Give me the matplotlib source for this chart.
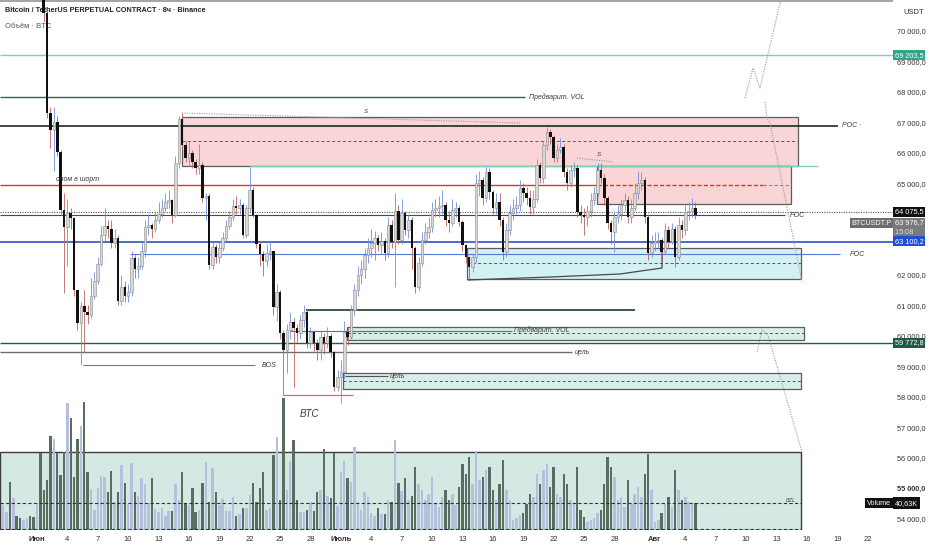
import numpy as np
import matplotlib.pyplot as plt
from matplotlib import font_manager
from matplotlib.patches import Rectangle
from matplotlib.transforms import blended_transform_factory

# 8ч свечи BTCUSDT.P, с 28 мая 16:00 по 5 авг (дни считаются от 1 июня)
first_open = 71700
closes = [71900, 72100, 71800, 72300, 72000, 71700, 71900, 72200, 71800, 71600, 71900, 71700,
          70600, 67310, 66750, 67000, 66030, 64130, 63570, 64030, 63870, 61500, 60430, 60980,
          60780, 60700, 61300, 61800, 62350, 63300, 63600, 63500, 63050, 63200, 61140, 61600,
          61300, 61450, 62550, 62200, 62300, 62800, 63570, 63640, 63500, 63800, 64000, 64200,
          64400, 64450, 63970, 65670, 67100, 66260, 65830, 66000, 65700, 65510, 65600, 64520,
          64600, 62330, 62920, 62600, 62900, 63200, 63600, 63900, 64250, 64200, 64300, 63310,
          64200, 64790, 63970, 63000, 62700, 62460, 62720, 62800, 60950, 61450, 60100, 59540,
          60200, 60460, 60260, 60100, 60520, 60790, 59770, 60130, 59770, 59540, 59970, 59770,
          60000, 59470, 58330, 58650, 58820, 60130, 59970, 60850, 61500, 62000, 62200, 62650,
          62900, 63050, 63200, 62980, 63100, 62720, 63640, 63080, 64100, 63150, 64030, 63470,
          63800, 62900, 61600, 62400, 63150, 63400, 63570, 64130, 64200, 64250, 64300, 63800,
          63700, 64130, 64200, 63740, 62980, 62590, 62260, 62590, 65010, 65100, 64520, 65380,
          64720, 64200, 64400, 63800, 62750, 63470, 64030, 64200, 64300, 64850, 64700, 64520,
          64230, 64500, 65600, 65180, 66260, 66690, 66520, 65830, 66100, 66200, 65380, 65010,
          65440, 65500, 64060, 63970, 63900, 64100, 64460, 64690, 65440, 65180, 64520, 63700,
          63400, 63900, 64000, 64300, 64450, 63900, 64200, 64700, 65010, 65100, 63900, 62720,
          63050, 63100, 63150, 62750, 63470, 63080, 63500, 62590, 63640, 63470, 64060, 64100,
          64200, 63977]
highs = [72300, 72500, 72300, 72600, 72500, 72200, 72300, 72600, 72300, 72000, 72200, 72100,
         72000, 70700, 67500, 67500, 67200, 66100, 64700, 64500, 64200, 63900, 61500, 61100,
         61500, 61000, 61900, 62100, 62600, 63600, 64200, 63800, 63800, 63500, 63300, 62000,
         61800, 61700, 62800, 62700, 62600, 63100, 63800, 64000, 63700, 64100, 64400, 64500,
         64700, 64800, 64500, 65900, 67200, 67310, 66400, 66400, 66100, 65800, 66300, 65700,
         64700, 64700, 63100, 63000, 63100, 63400, 63800, 64100, 64500, 64600, 64500, 64350,
         64300, 65540, 64900, 64000, 63100, 62800, 63000, 63100, 62800, 61700, 61500, 60200,
         60400, 60800, 60600, 60400, 60700, 61000, 60900, 60300, 60200, 59900, 60200, 60100,
         60300, 60100, 59500, 58900, 59200, 60500, 60300, 61000, 61700, 62300, 62500, 62900,
         63200, 63500, 63450, 63300, 63400, 63200, 63900, 63800, 64700, 64300, 64500, 64100,
         64000, 63900, 62950, 62600, 63400, 63700, 63900, 64400, 64500, 64600, 64800, 64400,
         64100, 64500, 64400, 64300, 63800, 63000, 62600, 62700, 65300, 65400, 65200, 65540,
         65500, 64800, 64700, 64700, 63900, 63700, 64300, 64500, 64600, 65100, 65000, 64900,
         64800, 64800, 65800, 65700, 66400, 66850, 66800, 66600, 66300, 66500, 66300, 65500,
         65600, 65700, 65600, 64300, 64200, 64300, 64700, 64900, 65670, 65670, 65300, 64600,
         63800, 64100, 64300, 64500, 64700, 64600, 64500, 65000, 65400, 65380, 65200, 64000,
         63300, 63400, 63400, 63200, 63700, 63600, 63700, 63600, 63900, 63800, 64300, 64400,
         64520, 64400]
lows = [71500, 71700, 71400, 71700, 71600, 71300, 71500, 71800, 71400, 71200, 71400, 71300,
        70300, 67150, 66170, 65400, 65900, 64000, 61410, 62300, 63500, 61300, 60200, 59050,
        59470, 60400, 60600, 61200, 61700, 62300, 63100, 63200, 62900, 62900, 61000, 61000,
        61100, 61100, 61300, 61900, 61900, 62200, 62600, 63300, 63200, 63400, 63700, 63900,
        64100, 64200, 63700, 63900, 65500, 66100, 65700, 65600, 65500, 65300, 65300, 64400,
        63800, 62200, 62200, 62400, 62400, 62800, 63100, 63500, 63800, 64000, 64000, 63200,
        63200, 64100, 63900, 62900, 62300, 61950, 62300, 62500, 60700, 60500, 59900, 58060,
        58800, 59900, 58330, 59800, 59900, 60300, 59600, 59600, 59500, 59200, 59200, 59400,
        59600, 59300, 58200, 58200, 57800, 58600, 59700, 59900, 60700, 61300, 61700, 61900,
        62400, 62600, 62500, 62800, 62700, 62500, 62600, 62900, 61600, 63000, 63000, 63300,
        63200, 62200, 61400, 61500, 62300, 63000, 63200, 63400, 63900, 63900, 64000, 63600,
        63400, 63600, 63900, 63600, 62800, 62400, 61900, 62100, 62400, 64600, 64300, 64400,
        64500, 64000, 64000, 63600, 62500, 62600, 63300, 63800, 64000, 64100, 64400, 64300,
        64000, 64000, 64400, 65000, 65000, 66100, 66300, 65700, 65700, 66000, 65200, 64800,
        64900, 65200, 63900, 63700, 63300, 63600, 63900, 64300, 64600, 65000, 64300, 63500,
        63000, 62750, 63700, 63800, 64100, 63700, 63700, 64100, 64500, 64800, 63700, 62500,
        62600, 62800, 62900, 62500, 62700, 62900, 63000, 62270, 62500, 63200, 63300, 63800,
        63900, 63850]
volumes = [38, 27, 72, 48, 21, 18, 15, 18, 21, 20, 41, 116, 60, 75, 142, 137, 116, 83, 118, 192,
           169, 80, 137, 157, 193, 88, 62, 30, 63, 82, 80, 57, 89, 42, 57, 98, 71, 39, 101, 57,
           51, 78, 69, 41, 78, 32, 27, 33, 21, 29, 29, 69, 45, 88, 39, 38, 63, 27, 30, 71,
           103, 42, 94, 57, 38, 47, 29, 29, 50, 21, 24, 33, 33, 53, 71, 42, 63, 88, 30, 33,
           113, 140, 45, 199, 60, 104, 136, 45, 27, 27, 30, 42, 29, 57, 60, 122, 51, 48, 116, 36,
           88, 104, 78, 72, 125, 42, 30, 57, 50, 26, 21, 33, 24, 24, 45, 42, 136, 71, 59, 78,
           45, 51, 95, 70, 60, 45, 55, 80, 40, 35, 50, 60, 45, 55, 38, 65, 100, 85, 110, 70,
           120, 75, 80, 90, 95, 60, 45, 70, 105, 60, 45, 15, 18, 22, 25, 40, 55, 50, 85, 70,
           90, 100, 65, 95, 55, 50, 85, 70, 45, 40, 95, 30, 20, 12, 15, 18, 25, 30, 70, 110,
           95, 80, 45, 50, 35, 75, 40, 55, 65, 50, 85, 115, 60, 12, 15, 25, 40, 50, 35, 90,
           60, 45, 50, 42, 40, 40.63]

tick_days = [0, 3, 6, 9, 12, 15, 18, 21, 24, 27, 30, 33, 36, 39, 42, 45, 48, 51, 54, 57,
             61, 64, 67, 70, 73, 76, 79, 82]
tick_labels = ['Июн', '4', '7', '10', '13', '16', '19', '22', '25', '28',
               'Июль', '4', '7', '10', '13', '16', '19', '22', '25', '28',
               'Авг', '4', '7', '10', '13', '16', '19', '22']
# 64 000 и 63 000 закрыты метками цены, поэтому не выводятся
price_ticks = [70000, 69000, 68000, 67000, 66000, 65000, 62000, 61000,
               60000, 59000, 58000, 57000, 56000, 55000, 54000]

# шрифт
names = {f.name for f in font_manager.fontManager.ttflist}
base_font = 'Liberation Sans Narrow' if 'Liberation Sans Narrow' in names else 'Liberation Sans'
plt.rcParams['font.family'] = [base_font, 'DejaVu Sans']

X0, X1 = -3.65, 84.5
Y0, Y1 = 53638, 71016


def fmt_price(v):
    return f'{v:,.1f}'.replace(',', ' ').replace('.', ',')


fig = plt.figure(figsize=(9.32, 5.5), dpi=100, facecolor='white')
rect = [0, 20 / 550, 893 / 932, 530 / 550]
axv = fig.add_axes(rect)
ax = fig.add_axes(rect, sharex=axv)
for a in (ax, axv):
    a.patch.set_visible(False)
    for s in a.spines.values():
        s.set_visible(False)
axv.set_ylim(0, 800)
axv.tick_params(left=False, labelleft=False, bottom=False, labelbottom=False)
ax.set_xlim(X0, X1)
ax.set_ylim(Y0, Y1)

x = np.arange(-10, -10 + len(closes)) / 3.0
c = np.array(closes, float)
h = np.array(highs, float)
l = np.array(lows, float)
o = np.concatenate([[first_open], c[:-1]])
up = c >= o
vol = np.array(volumes, float)

# объём
axv.add_patch(Rectangle((X0, 0), 75.42 - X0, 117.7, facecolor='#d5e9e4',
                        edgecolor='#3c3c3c', lw=1.0, zorder=1))
axv.bar(x[up], vol[up], width=0.24, color='#b6c0dd', zorder=2)
axv.bar(x[~up], vol[~up], width=0.24, color='#596d60', zorder=2)
axv.hlines([40.7, 1.3], X0, 75.42, colors='#333333', lw=0.8, linestyles=(0, (3, 2)), zorder=3)
axv.text(74.9, 41.5, 'BZL', fontsize=4, color='#444', style='italic', ha='right', va='bottom')

# зоны
zones = [  # (день от, день до, низ, верх, середина, заливка)
    (14.31, 75.12, 65573, 67180, 66393, '#f9d5d8'),
    (55.28, 74.43, 64327, 65573, None, '#f9d5d8'),
    (42.45, 75.42, 61867, 62884, 62392, '#d3f1f3'),
    (30.60, 75.72, 59868, 60294, 60097, '#d8eeea'),
    (30.21, 75.42, 58261, 58801, 58523, '#d8eeea'),
]
for d0, d1, lo, hi, mid, fc in zones:
    ax.add_patch(Rectangle((d0, lo), d1 - d0, hi - lo, facecolor=fc,
                           edgecolor='#5c5c5c', lw=0.9, zorder=1))
    if mid is not None:
        ax.hlines(mid, d0, d1, colors='#555555', lw=0.7, linestyles=(0, (3, 2.5)), zorder=1.5)

# горизонтальные уровни: (цена, от, до, цвет, толщина, стиль)
levels = [
    (70985, X0, X1, '#a3a3a3', 1.4, '-'),
    (69203.5, X0, X1, '#7fcdbf', 1.0, '-'),
    (67836, X0, 48.17, '#3e5f50', 1.0, '-'),
    (66885, X0, 79.07, '#1b2a22', 1.2, '-'),
    (65573, 21.03, 77.1, '#7fcdbf', 1.0, '-'),
    (64950, X0, 55.28, '#e0332f', 1.0, '-'),
    (64950, 55.28, 71.67, '#e0332f', 1.0, (0, (3, 1.5))),
    (64950, 71.67, 74.43, '#888888', 0.8, (0, (3, 2))),
    (64075.5, X0, X1, '#555555', 0.8, (0, (1, 1.2))),
    (63966, X0, 73.84, '#4a4a4a', 0.8, '-'),
    (63081, X0, X1, '#2d52c4', 1.2, '-'),
    (62687, 9.18, 79.27, '#5577d6', 0.8, '-'),
    (60851, 26.55, 59.03, '#2e4a3c', 1.3, '-'),
    (60162, 24.98, 46.89, '#6c6c6c', 0.8, '-'),
    (59772.8, X0, X1, '#1f5e4c', 1.0, '-'),
    (59474, X0, 52.81, '#6d6d6d', 1.0, '-'),
    (59047, 4.54, 21.52, '#7a7a7a', 0.8, '-'),
    (58687, 30.41, 34.65, '#555555', 0.8, '-'),
    (58064, 24.28, 31.19, '#e06666', 0.9, '-'),
]
for p, d0, d1, col, lw, ls in levels:
    ax.hlines(p, d0, d1, colors=col, lw=lw, linestyles=ls, zorder=2)

# подписи на графике
notes = [  # (день, цена, текст, размер)
    (48.6, 67836, 'Предварит. VOL', 5),
    (79.5, 66885, 'POC ·', 5),
    (74.3, 63966, 'POC', 5),
    (80.2, 62687, 'POC', 5),
    (1.88, 65146, 'слом в шорт', 5),
    (47.1, 60195, 'Предварит. VOL', 5),
    (53.1, 59474, 'цель', 5),
    (22.2, 59047, 'BOS', 5),
    (34.85, 58687, 'цель', 5),
    (25.96, 57441, 'BTC', 7),
    (32.28, 67376, 'S', 4.5),
    (55.28, 65934, 'S', 4.5),
]
for d, p, t, fs in notes:
    ax.text(d, p, t, fontsize=fs, style='italic', color='#3a3a3a', va='center', ha='left', zorder=6)

# пунктирные линии и схема
dotted = [
    ([14.31, 47.68], [67311, 66983]),
    ([53.31, 56.86], [65835, 65704]),
    ([69.89, 70.68, 71.37, 73.54], [67803, 68786, 68130, 71180]),
    ([71.87, 72.06, 72.36, 75.52], [67671, 67147, 66983, 61769]),
    ([71.08, 71.57, 72.16, 75.52], [59474, 60195, 60031, 56195]),
]
for xs, ys in dotted:
    ax.plot(xs, ys, color='#9a9a9a', lw=0.8, ls=(0, (1, 1.2)), zorder=2)
ax.plot([42.55, 50.64, 57.55, 61.70, 61.70], [61835, 61933, 62032, 62228, 62819],
        color='#4a4a4a', lw=0.9, zorder=2)

# свечи
ax.vlines(x[up], l[up], h[up], colors='#6f8fe3', lw=0.6, zorder=3)
ax.vlines(x[~up], l[~up], h[~up], colors='#c0605c', lw=0.6, zorder=3)
body_lo = np.minimum(o, c)
body_h = np.maximum(np.abs(c - o), 30)
ax.bar(x[up], body_h[up], bottom=body_lo[up], width=0.25, color='#d8d8d8',
       edgecolor='#8a8a8a', lw=0.4, zorder=4)
ax.bar(x[~up], body_h[~up], bottom=body_lo[~up], width=0.25, color='#111111', zorder=4)

# оси
ax.yaxis.tick_right()
ax.set_yticks(price_ticks)
ax.set_yticklabels([fmt_price(v) for v in price_ticks])
ax.tick_params(axis='y', length=0, pad=3, labelsize=5.3, labelcolor='#333333')
for lbl, v in zip(ax.get_yticklabels(), price_ticks):
    if v == 55000:
        lbl.set_fontweight('bold')
ax.set_xticks(tick_days)
ax.set_xticklabels(tick_labels)
ax.tick_params(axis='x', length=0, pad=4, labelsize=5.5, labelcolor='#333333')
for lbl in ax.get_xticklabels():
    if not lbl.get_text().isdigit():
        lbl.set_fontweight('bold')

# метки цены справа
tr = blended_transform_factory(ax.transAxes, ax.transData)
tags = [  # (цена, текст, фон)
    (69203.5, fmt_price(69203.5), '#2fa58c'),
    (64075.5, fmt_price(64075.5), '#111111'),
    (63704, fmt_price(63976.7), '#7a7a7a'),
    (63409, '15:08     ', '#7a7a7a'),
    (63100.2, fmt_price(63100.2), '#1f4fd6'),
    (59772.8, fmt_price(59772.8), '#1e5b47'),
]
for p, t, bg in tags:
    fg = '#dddddd' if t.startswith('15:08') else 'white'
    ax.text(1.002, p, t, transform=tr, fontsize=5.3, color=fg, va='center', ha='left',
            clip_on=False, zorder=8,
            bbox=dict(boxstyle='square,pad=0.2', fc=bg, ec='none'))
ax.text(0.998, 63704, 'BTCUSDT.P', transform=tr, fontsize=5.2, color='white', va='center',
        ha='right', zorder=8, bbox=dict(boxstyle='square,pad=0.2', fc='#6d6d6d', ec='none'))
trv = blended_transform_factory(ax.transAxes, axv.transData)
axv.text(0.998, 40.63, 'Volume', transform=trv, fontsize=5.2, color='white', va='center',
         ha='right', zorder=8, bbox=dict(boxstyle='square,pad=0.25', fc='#111111', ec='none'))
axv.text(1.002, 40.63, '40,63K', transform=trv, fontsize=5.2, color='white', va='center',
         ha='left', clip_on=False, zorder=8,
         bbox=dict(boxstyle='square,pad=0.3', fc='#111111', ec='none'))

fig.text(903 / 932, 1 - 12 / 550, 'USDT', fontsize=5.5, color='#333333', va='center')
fig.text(5 / 932, 1 - 11 / 550, 'Bitcoin / TetherUS PERPETUAL CONTRACT · 8ч · Binance',
         fontsize=5.2, fontweight='bold', color='#222222', va='center', zorder=-1)
fig.text(5 / 932, 1 - 26 / 550, 'Объём · BTC', fontsize=5.5, color='#555555', va='center', zorder=-1)

fig.savefig('out.png', dpi=100)
plt.close(fig)
